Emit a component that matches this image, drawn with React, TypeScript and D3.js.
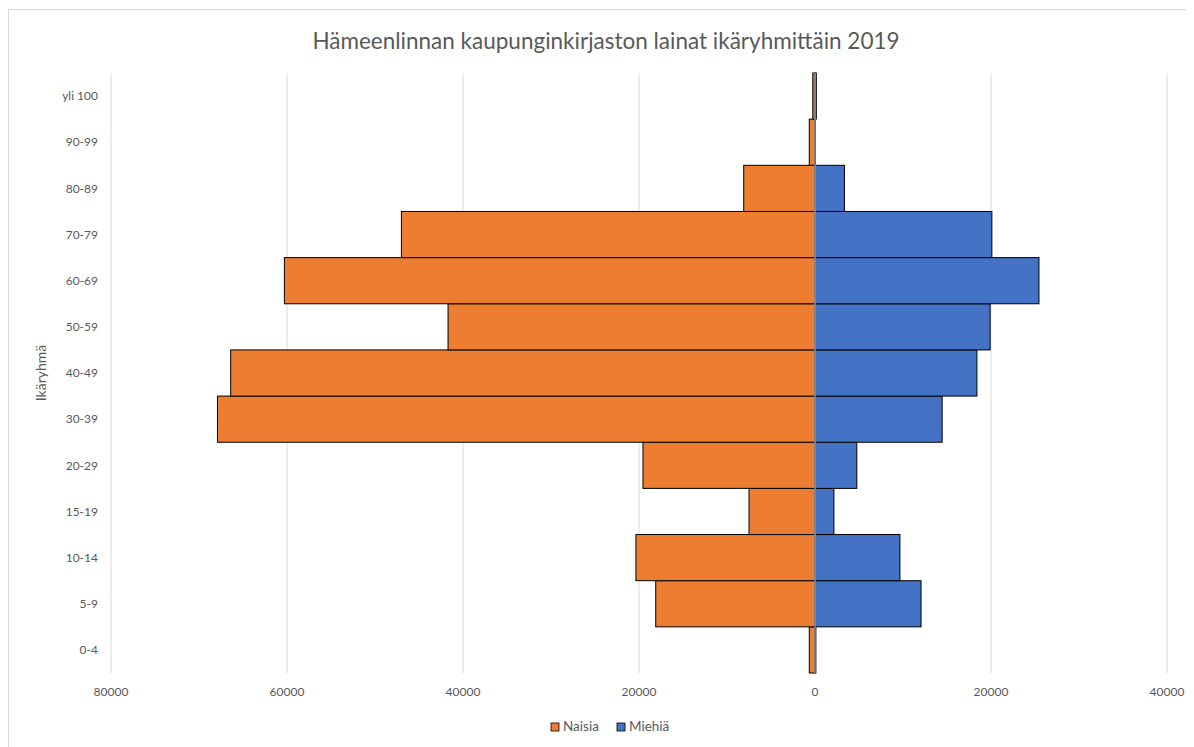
import React from "react";
import * as d3 from "d3";

const categories = ["0-4", "5-9", "10-14", "15-19", "20-29", "30-39", "40-49", "50-59", "60-69", "70-79", "80-89", "90-99", "yli 100"];
const naisia = [650, 18100, 20350, 7500, 19550, 67900, 66400, 41700, 60300, 47000, 8100, 650, 250];
const miehia = [100, 12050, 9650, 2150, 4750, 14450, 18400, 19900, 25450, 20100, 3350, 50, 150];
const xTicks = [-80000, -60000, -40000, -20000, 0, 20000, 40000];

const W = 1186;
const H = 739;
const FONT = "Lato, 'Liberation Sans', sans-serif";

export default function App() {
  const left = 103;
  const right = 1159;
  const top = 65;
  const bottom = 665;
  const x = d3.scaleLinear().domain([-80000, 40000]).range([left, right]);
  const y = d3.scaleBand<string>().domain([...categories].reverse()).range([top, bottom]).padding(0);
  const bw = y.bandwidth();
  return (
    <svg width={W} height={H} style={{ display: "block", fontFamily: FONT }}>
      <rect x={0.5} y={1.5} width={W + 10} height={H + 10} fill="#fff" stroke="#d9d9d9" />
      <text x={598} y={41} textAnchor="middle" fontSize={22.5} fill="#595959">
        Hämeenlinnan kaupunginkirjaston lainat ikäryhmittäin 2019
      </text>
      {xTicks.map((t) => (
        <g key={t}>
          {t !== 0 && <line x1={x(t)} x2={x(t)} y1={top} y2={bottom} stroke="#d9d9d9" strokeWidth={1} />}
          <text x={x(t)} y={bottom + 23} textAnchor="middle" fontSize={12} fill="#595959">
            {Math.abs(t)}
          </text>
        </g>
      ))}
      {categories.map((c, i) => (
        <g key={c}>
          <rect x={x(-naisia[i])} y={y(c)!} width={x(0) - x(-naisia[i])} height={bw} fill="#ED7D31" stroke="#000" strokeWidth={1} />
          <rect x={x(0)} y={y(c)!} width={x(miehia[i]) - x(0)} height={bw} fill="#4472C4" stroke="#000" strokeWidth={1} />
          <text x={90} y={y(c)! + bw / 2} dy="0.35em" textAnchor="end" fontSize={12} fill="#595959">
            {c}
          </text>
        </g>
      ))}
      <line x1={x(0)} x2={x(0)} y1={top} y2={bottom} stroke="#d9d9d9" strokeWidth={1} />
      <text transform={`translate(38,${(top + bottom) / 2}) rotate(-90)`} textAnchor="middle" fontSize={14} fill="#595959">
        Ikäryhmä
      </text>
      <g transform="translate(543,723)">
        <rect x={0} y={-8} width={8} height={8} fill="#ED7D31" stroke="#000" strokeWidth={0.8} />
        <text x={12} y={0} fontSize={13.5} fill="#595959">Naisia</text>
        <rect x={66} y={-8} width={8} height={8} fill="#4472C4" stroke="#000" strokeWidth={0.8} />
        <text x={78} y={0} fontSize={13.5} fill="#595959">Miehiä</text>
      </g>
    </svg>
  );
}
